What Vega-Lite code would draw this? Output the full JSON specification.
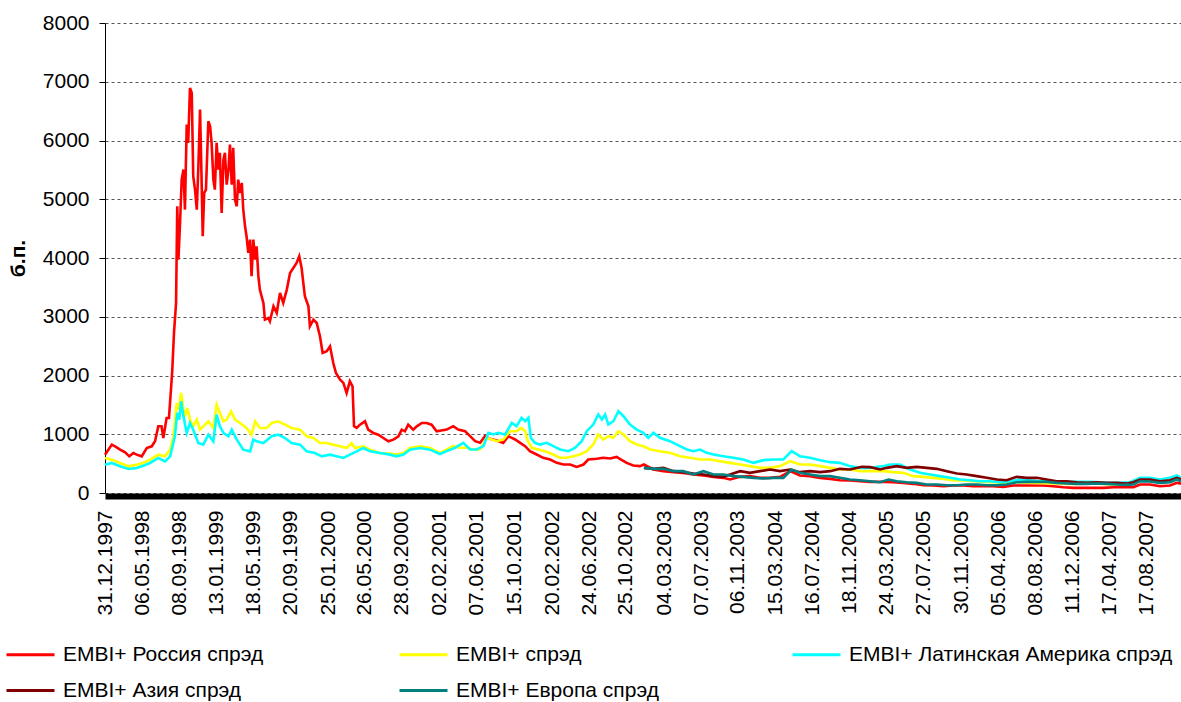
{
  "$schema": "https://vega.github.io/schema/vega-lite/v6.json",
  "width": 1076,
  "height": 470,
  "autosize": {"type": "none"},
  "padding": {"left": 105, "top": 23, "right": 0, "bottom": 209},
  "background": "white",
  "config": {"view": {"stroke": null}, "font": "Liberation Sans"},
  "encoding": {
    "x": {
      "field": "d", "type": "temporal",
      "scale": {"type": "utc", "domain": [{"year": 1997, "month": 12, "date": 31, "utc": true}, {"year": 2007, "month": 12, "date": 13, "utc": true}]},
      "axis": {
        "title": null,
        "values": [
          {"year": 1997, "month": 12, "date": 31, "utc": true},
          {"year": 1998, "month": 5, "date": 6, "utc": true},
          {"year": 1998, "month": 9, "date": 8, "utc": true},
          {"year": 1999, "month": 1, "date": 13, "utc": true},
          {"year": 1999, "month": 5, "date": 18, "utc": true},
          {"year": 1999, "month": 9, "date": 20, "utc": true},
          {"year": 2000, "month": 1, "date": 25, "utc": true},
          {"year": 2000, "month": 5, "date": 26, "utc": true},
          {"year": 2000, "month": 9, "date": 28, "utc": true},
          {"year": 2001, "month": 2, "date": 2, "utc": true},
          {"year": 2001, "month": 6, "date": 7, "utc": true},
          {"year": 2001, "month": 10, "date": 15, "utc": true},
          {"year": 2002, "month": 2, "date": 20, "utc": true},
          {"year": 2002, "month": 6, "date": 24, "utc": true},
          {"year": 2002, "month": 10, "date": 25, "utc": true},
          {"year": 2003, "month": 3, "date": 4, "utc": true},
          {"year": 2003, "month": 7, "date": 7, "utc": true},
          {"year": 2003, "month": 11, "date": 6, "utc": true},
          {"year": 2004, "month": 3, "date": 15, "utc": true},
          {"year": 2004, "month": 7, "date": 16, "utc": true},
          {"year": 2004, "month": 11, "date": 18, "utc": true},
          {"year": 2005, "month": 3, "date": 24, "utc": true},
          {"year": 2005, "month": 7, "date": 27, "utc": true},
          {"year": 2005, "month": 11, "date": 30, "utc": true},
          {"year": 2006, "month": 4, "date": 5, "utc": true},
          {"year": 2006, "month": 8, "date": 8, "utc": true},
          {"year": 2006, "month": 12, "date": 11, "utc": true},
          {"year": 2007, "month": 4, "date": 17, "utc": true},
          {"year": 2007, "month": 8, "date": 17, "utc": true}
        ],
        "labelExpr": "utcFormat(datum.value, '%d.%m.%Y')",
        "labelAngle": -90, "labelFontSize": 21, "labelFont": "Liberation Sans", "labelColor": "#000",
        "labelPadding": 14, "ticks": false, "domainColor": "#000", "domainWidth": 6, "offset": 3,
        "grid": false, "labelOverlap": false, "labelFlush": false, "labelBound": false
      }
    },
    "y": {
      "field": "v", "type": "quantitative",
      "scale": {"domain": [0, 8000], "nice": false},
      "axis": {
        "title": "б.п.", "titleFontSize": 21, "titleFont": "Liberation Sans", "titleFontWeight": "bold", "titleColor": "#000", "titlePadding": 14,
        "values": [0, 1000, 2000, 3000, 4000, 5000, 6000, 7000, 8000], "format": "d",
        "labelFontSize": 21, "labelFont": "Liberation Sans", "labelColor": "#000", "labelPadding": 10,
        "tickSize": 6, "tickColor": "#000", "domainColor": "#000", "domainWidth": 1,
        "grid": true, "gridDash": [3, 3], "gridColor": "#555", "gridWidth": 1
      }
    }
  },
  "layer": [
    {
      "data": {"values": [
        {"d":"1997-12-31","v":650},{"d":"1998-01-23","v":823},{"d":"1998-02-03","v":795},{"d":"1998-02-20","v":738},{"d":"1998-03-09","v":692},{"d":"1998-03-23","v":624},{"d":"1998-04-06","v":681},{"d":"1998-04-17","v":653},{"d":"1998-05-04","v":624},{"d":"1998-05-21","v":766},{"d":"1998-06-07","v":795},{"d":"1998-06-18","v":880},{"d":"1998-06-29","v":1135},{"d":"1998-07-10","v":1135},{"d":"1998-07-16","v":936},{"d":"1998-07-27","v":1277},{"d":"1998-08-04","v":1277},{"d":"1998-08-10","v":1703},{"d":"1998-08-15","v":2071},{"d":"1998-08-21","v":2724},{"d":"1998-08-28","v":3235},{"d":"1998-09-01","v":4880},{"d":"1998-09-05","v":3972},{"d":"1998-09-10","v":4540},{"d":"1998-09-16","v":5335},{"d":"1998-09-22","v":5505},{"d":"1998-09-27","v":4824},{"d":"1998-10-03","v":6271},{"d":"1998-10-08","v":5959},{"d":"1998-10-14","v":6895},{"d":"1998-10-20","v":6810},{"d":"1998-10-25","v":5391},{"d":"1998-10-31","v":5164},{"d":"1998-11-06","v":4824},{"d":"1998-11-11","v":5505},{"d":"1998-11-17","v":6526},{"d":"1998-11-22","v":5391},{"d":"1998-11-26","v":4370},{"d":"1998-12-01","v":5108},{"d":"1998-12-07","v":5164},{"d":"1998-12-15","v":6328},{"d":"1998-12-21","v":6243},{"d":"1998-12-26","v":5959},{"d":"1999-01-01","v":5335},{"d":"1999-01-06","v":5164},{"d":"1999-01-12","v":5959},{"d":"1999-01-18","v":5505},{"d":"1999-01-23","v":5789},{"d":"1999-01-29","v":4767},{"d":"1999-02-04","v":5675},{"d":"1999-02-09","v":5789},{"d":"1999-02-15","v":5249},{"d":"1999-02-21","v":5505},{"d":"1999-02-26","v":5930},{"d":"1999-03-04","v":5249},{"d":"1999-03-09","v":5874},{"d":"1999-03-15","v":4994},{"d":"1999-03-21","v":4880},{"d":"1999-03-26","v":5335},{"d":"1999-04-01","v":5108},{"d":"1999-04-07","v":5278},{"d":"1999-04-12","v":4824},{"d":"1999-04-18","v":4540},{"d":"1999-04-23","v":4370},{"d":"1999-04-29","v":4086},{"d":"1999-05-05","v":4313},{"d":"1999-05-10","v":3689},{"d":"1999-05-16","v":4313},{"d":"1999-05-22","v":3972},{"d":"1999-05-27","v":4199},{"d":"1999-06-02","v":3689},{"d":"1999-06-07","v":3462},{"d":"1999-06-13","v":3348},{"d":"1999-06-19","v":3235},{"d":"1999-06-24","v":2951},{"d":"1999-07-06","v":2979},{"d":"1999-07-11","v":2923},{"d":"1999-07-23","v":3178},{"d":"1999-08-03","v":3065},{"d":"1999-08-14","v":3405},{"d":"1999-08-25","v":3235},{"d":"1999-09-06","v":3462},{"d":"1999-09-17","v":3746},{"d":"1999-09-28","v":3831},{"d":"1999-10-09","v":3916},{"d":"1999-10-18","v":4029},{"d":"1999-10-26","v":3831},{"d":"1999-11-06","v":3348},{"d":"1999-11-18","v":3178},{"d":"1999-11-23","v":2838},{"d":"1999-12-05","v":2951},{"d":"1999-12-16","v":2894},{"d":"1999-12-27","v":2667},{"d":"2000-01-05","v":2384},{"d":"2000-01-19","v":2412},{"d":"2000-01-30","v":2497},{"d":"2000-02-10","v":2213},{"d":"2000-02-19","v":2043},{"d":"2000-03-04","v":1930},{"d":"2000-03-15","v":1873},{"d":"2000-03-26","v":1703},{"d":"2000-04-06","v":1901},{"d":"2000-04-15","v":1816},{"d":"2000-04-20","v":1135},{"d":"2000-04-29","v":1107},{"d":"2000-05-10","v":1163},{"d":"2000-05-27","v":1220},{"d":"2000-06-07","v":1078},{"d":"2000-06-24","v":1022},{"d":"2000-07-11","v":993},{"d":"2000-07-28","v":936},{"d":"2000-08-14","v":880},{"d":"2000-08-31","v":908},{"d":"2000-09-17","v":965},{"d":"2000-09-28","v":1078},{"d":"2000-10-09","v":1050},{"d":"2000-10-20","v":1163},{"d":"2000-11-06","v":1078},{"d":"2000-11-18","v":1135},{"d":"2000-12-05","v":1192},{"d":"2000-12-21","v":1192},{"d":"2001-01-07","v":1163},{"d":"2001-01-24","v":1050},
        {"d":"2001-02-27","v":1080},{"d":"2001-03-21","v":1137},{"d":"2001-04-07","v":1080},{"d":"2001-04-30","v":1052},{"d":"2001-05-17","v":967},{"d":"2001-06-03","v":882},{"d":"2001-06-20","v":854},{"d":"2001-07-06","v":967},{"d":"2001-07-23","v":922},{"d":"2001-08-15","v":894},{"d":"2001-09-06","v":854},{"d":"2001-09-23","v":967},{"d":"2001-10-05","v":939},{"d":"2001-10-16","v":911},{"d":"2001-11-02","v":854},{"d":"2001-11-19","v":797},{"d":"2001-12-05","v":712},{"d":"2001-12-28","v":655},{"d":"2002-01-19","v":599},{"d":"2002-02-11","v":570},{"d":"2002-03-06","v":513},{"d":"2002-03-28","v":485},{"d":"2002-04-20","v":485},{"d":"2002-05-12","v":445},{"d":"2002-06-04","v":485},{"d":"2002-06-20","v":570},{"d":"2002-07-19","v":582},{"d":"2002-08-10","v":599},{"d":"2002-09-02","v":587},{"d":"2002-09-24","v":615},{"d":"2002-10-09","v":570},{"d":"2002-10-28","v":513},{"d":"2002-11-19","v":468},{"d":"2002-12-12","v":457},{"d":"2002-12-25","v":485},{"d":"2003-01-26","v":400},{"d":"2003-03-01","v":372},{"d":"2003-04-04","v":355},{"d":"2003-05-07","v":343},{"d":"2003-06-10","v":315},{"d":"2003-07-14","v":298},{"d":"2003-08-17","v":275},{"d":"2003-09-19","v":258},{"d":"2003-10-12","v":230},{"d":"2003-11-15","v":275},{"d":"2003-12-18","v":287},{"d":"2004-01-21","v":258},{"d":"2004-02-24","v":258},{"d":"2004-03-29","v":275},{"d":"2004-05-02","v":372},{"d":"2004-06-04","v":298},
        {"d":"2004-07-08","v":287},{"d":"2004-08-11","v":258},{"d":"2004-09-14","v":241},{"d":"2004-10-17","v":218},{"d":"2004-11-20","v":213},{"d":"2004-12-24","v":201},{"d":"2005-01-27","v":190},{"d":"2005-03-13","v":190},{"d":"2005-04-16","v":184},{"d":"2005-05-19","v":173},{"d":"2005-06-22","v":156},{"d":"2005-07-26","v":133},{"d":"2005-08-29","v":128},{"d":"2005-10-01","v":116},{"d":"2005-11-04","v":128},{"d":"2005-12-08","v":128},{"d":"2006-01-11","v":116},{"d":"2006-02-14","v":116},{"d":"2006-03-19","v":116},{"d":"2006-04-22","v":105},{"d":"2006-05-26","v":128},{"d":"2006-06-29","v":128},{"d":"2006-08-01","v":128},{"d":"2006-09-04","v":128},{"d":"2006-10-08","v":116},{"d":"2006-11-11","v":99},{"d":"2006-12-15","v":88},{"d":"2007-01-17","v":88},{"d":"2007-02-20","v":88},{"d":"2007-03-26","v":88},{"d":"2007-04-29","v":99},{"d":"2007-06-01","v":99},{"d":"2007-07-05","v":99},{"d":"2007-07-28","v":145},{"d":"2007-08-30","v":145},{"d":"2007-10-03","v":116},{"d":"2007-11-06","v":128},{"d":"2007-11-29","v":173},{"d":"2007-12-13","v":160}
      ]},
      "mark": {"type": "line", "strokeWidth": 2.6},
      "encoding": {
        "color": {
          "datum": "EMBI+ Россия спрэд",
          "scale": {
            "domain": ["EMBI+ Россия спрэд", "EMBI+ спрэд", "EMBI+ Латинская Америка спрэд", "EMBI+ Азия спрэд", "EMBI+ Европа спрэд"],
            "range": ["#FF0000", "#FFFF00", "#00FFFF", "#800000", "#008080"]
          },
          "legend": {
            "title": null, "orient": "none", "legendX": -100, "legendY": 606, "padding": 0,
            "columns": 3, "direction": "horizontal", "gridAlign": "all", "columnPadding": 6, "rowPadding": -14,
            "symbolType": "stroke", "symbolSize": 2304, "symbolStrokeWidth": 3,
            "labelFontSize": 21, "labelFont": "Liberation Sans", "labelColor": "#000", "labelOffset": 7, "labelLimit": 0
          }
        }
      }
    },
    {
      "data": {"values": [
        {"d":"1997-12-31","v":596},{"d":"1998-01-23","v":568},{"d":"1998-02-20","v":511},{"d":"1998-03-20","v":454},{"d":"1998-04-17","v":482},{"d":"1998-05-09","v":511},{"d":"1998-06-01","v":568},{"d":"1998-06-29","v":653},{"d":"1998-07-22","v":624},{"d":"1998-08-08","v":738},{"d":"1998-08-19","v":965},{"d":"1998-08-30","v":1532},{"d":"1998-09-05","v":1419},{"d":"1998-09-14","v":1703},{"d":"1998-09-22","v":1419},{"d":"1998-09-27","v":1305},{"d":"1998-10-05","v":1447},{"d":"1998-10-14","v":1249},{"d":"1998-10-25","v":1135},{"d":"1998-11-06","v":1249},{"d":"1998-11-17","v":1078},{"d":"1998-12-04","v":1163},{"d":"1998-12-15","v":1220},{"d":"1999-01-01","v":1107},{"d":"1999-01-12","v":1504},{"d":"1999-01-23","v":1362},{"d":"1999-02-04","v":1220},{"d":"1999-02-15","v":1249},{"d":"1999-03-02","v":1390},{"d":"1999-03-15","v":1249},{"d":"1999-04-01","v":1192},{"d":"1999-04-23","v":1107},{"d":"1999-05-10","v":993},{"d":"1999-05-22","v":1220},{"d":"1999-06-07","v":1107},{"d":"1999-06-30","v":1107},{"d":"1999-07-17","v":1192},{"d":"1999-08-08","v":1220},{"d":"1999-08-31","v":1163},{"d":"1999-09-22","v":1107},{"d":"1999-10-21","v":1078},{"d":"1999-11-12","v":965},{"d":"1999-12-05","v":936},{"d":"1999-12-27","v":851},{"d":"2000-01-19","v":851},{"d":"2000-02-10","v":823},{"d":"2000-03-04","v":795},{"d":"2000-03-26","v":766},{"d":"2000-04-12","v":851},{"d":"2000-04-23","v":766},{"d":"2000-05-21","v":795},{"d":"2000-06-13","v":738},{"d":"2000-07-17","v":681},{"d":"2000-08-20","v":670},{"d":"2000-09-11","v":653},{"d":"2000-10-04","v":681},{"d":"2000-10-26","v":766},{"d":"2000-11-29","v":795},{"d":"2001-01-02","v":766},{"d":"2001-02-04","v":681},
        {"d":"2001-02-27","v":740},{"d":"2001-03-21","v":797},{"d":"2001-04-13","v":769},{"d":"2001-05-06","v":769},{"d":"2001-05-28","v":740},{"d":"2001-06-20","v":740},{"d":"2001-07-12","v":939},{"d":"2001-07-29","v":911},{"d":"2001-08-15","v":882},{"d":"2001-09-06","v":911},{"d":"2001-09-29","v":1052},{"d":"2001-10-21","v":1052},{"d":"2001-11-07","v":1109},{"d":"2001-11-19","v":1052},{"d":"2001-11-26","v":911},{"d":"2001-12-11","v":769},{"d":"2002-01-03","v":740},{"d":"2002-01-25","v":712},{"d":"2002-02-22","v":655},{"d":"2002-03-17","v":599},{"d":"2002-04-08","v":599},{"d":"2002-05-01","v":627},{"d":"2002-05-23","v":655},{"d":"2002-06-15","v":712},{"d":"2002-07-07","v":825},{"d":"2002-07-24","v":996},{"d":"2002-08-10","v":911},{"d":"2002-08-27","v":967},{"d":"2002-09-13","v":939},{"d":"2002-09-30","v":1052},{"d":"2002-10-17","v":996},{"d":"2002-11-08","v":882},{"d":"2002-12-01","v":825},{"d":"2002-12-23","v":797},{"d":"2003-01-15","v":740},{"d":"2003-02-17","v":712},{"d":"2003-03-23","v":684},{"d":"2003-04-26","v":627},{"d":"2003-05-30","v":599},{"d":"2003-07-03","v":570},{"d":"2003-08-05","v":570},{"d":"2003-09-08","v":542},{"d":"2003-10-12","v":513},{"d":"2003-11-15","v":485},{"d":"2003-12-18","v":457},{"d":"2004-01-21","v":428},{"d":"2004-02-24","v":428},{"d":"2004-03-29","v":457},{"d":"2004-05-02","v":542},{"d":"2004-06-04","v":485},
        {"d":"2004-07-08","v":485},{"d":"2004-08-11","v":457},{"d":"2004-09-14","v":428},{"d":"2004-10-17","v":400},{"d":"2004-11-20","v":400},{"d":"2004-12-24","v":372},{"d":"2005-01-27","v":372},{"d":"2005-03-13","v":372},{"d":"2005-04-16","v":355},{"d":"2005-05-19","v":343},{"d":"2005-06-22","v":287},{"d":"2005-07-26","v":275},{"d":"2005-08-29","v":258},{"d":"2005-10-01","v":241},{"d":"2005-11-04","v":218},{"d":"2005-12-08","v":213},{"d":"2006-01-11","v":201},{"d":"2006-02-14","v":190},{"d":"2006-03-19","v":184},{"d":"2006-04-22","v":173},{"d":"2006-05-26","v":184},{"d":"2006-08-01","v":173},{"d":"2006-10-08","v":162},{"d":"2006-12-15","v":156},{"d":"2007-02-20","v":162},{"d":"2007-04-29","v":145},{"d":"2007-06-24","v":156},{"d":"2007-07-28","v":218},{"d":"2007-10-03","v":201},{"d":"2007-11-29","v":258},{"d":"2007-12-13","v":230}
      ]},
      "mark": {"type": "line", "strokeWidth": 2.6},
      "encoding": {"color": {"datum": "EMBI+ спрэд"}}
    },
    {
      "data": {"values": [
        {"d":"1997-12-31","v":482},{"d":"1998-01-23","v":511},{"d":"1998-02-20","v":454},{"d":"1998-03-20","v":409},{"d":"1998-04-17","v":426},{"d":"1998-05-09","v":465},{"d":"1998-06-01","v":511},{"d":"1998-06-29","v":596},{"d":"1998-07-22","v":539},{"d":"1998-08-08","v":624},{"d":"1998-08-24","v":965},{"d":"1998-09-01","v":1362},{"d":"1998-09-08","v":1249},{"d":"1998-09-14","v":1561},{"d":"1998-09-22","v":1305},{"d":"1998-10-03","v":1022},{"d":"1998-10-14","v":1192},{"d":"1998-10-25","v":1078},{"d":"1998-11-11","v":851},{"d":"1998-11-28","v":823},{"d":"1998-12-15","v":993},{"d":"1999-01-01","v":880},{"d":"1999-01-12","v":1334},{"d":"1999-01-23","v":1135},{"d":"1999-02-04","v":1022},{"d":"1999-02-21","v":965},{"d":"1999-03-04","v":1078},{"d":"1999-03-21","v":908},{"d":"1999-04-12","v":738},{"d":"1999-05-05","v":709},{"d":"1999-05-16","v":908},{"d":"1999-05-27","v":880},{"d":"1999-06-19","v":851},{"d":"1999-07-17","v":965},{"d":"1999-08-08","v":993},{"d":"1999-08-31","v":936},{"d":"1999-09-22","v":851},{"d":"1999-10-21","v":823},{"d":"1999-11-12","v":709},{"d":"1999-12-10","v":681},{"d":"2000-01-02","v":624},{"d":"2000-01-30","v":653},{"d":"2000-02-21","v":624},{"d":"2000-03-15","v":596},{"d":"2000-04-06","v":653},{"d":"2000-04-29","v":709},{"d":"2000-05-21","v":766},{"d":"2000-06-13","v":709},{"d":"2000-07-17","v":681},{"d":"2000-08-20","v":653},{"d":"2000-09-11","v":624},{"d":"2000-10-04","v":653},{"d":"2000-10-26","v":738},{"d":"2000-11-29","v":766},{"d":"2001-01-02","v":738},{"d":"2001-02-04","v":664},
        {"d":"2001-02-27","v":712},{"d":"2001-03-27","v":769},{"d":"2001-04-24","v":854},{"d":"2001-05-17","v":740},{"d":"2001-06-08","v":740},{"d":"2001-07-01","v":797},{"d":"2001-07-18","v":1024},{"d":"2001-08-04","v":996},{"d":"2001-08-20","v":1024},{"d":"2001-09-12","v":996},{"d":"2001-10-05","v":1194},{"d":"2001-10-21","v":1137},{"d":"2001-11-07","v":1279},{"d":"2001-11-19","v":1222},{"d":"2001-11-30","v":1279},{"d":"2001-12-08","v":939},{"d":"2001-12-22","v":854},{"d":"2002-01-08","v":825},{"d":"2002-01-31","v":854},{"d":"2002-02-22","v":797},{"d":"2002-03-17","v":740},{"d":"2002-04-14","v":712},{"d":"2002-05-06","v":769},{"d":"2002-05-29","v":882},{"d":"2002-06-15","v":1052},{"d":"2002-07-07","v":1165},{"d":"2002-07-24","v":1336},{"d":"2002-08-05","v":1251},{"d":"2002-08-16","v":1336},{"d":"2002-08-27","v":1165},{"d":"2002-09-13","v":1222},{"d":"2002-09-30","v":1393},{"d":"2002-10-17","v":1307},{"d":"2002-11-08","v":1165},{"d":"2002-12-01","v":1080},{"d":"2002-12-23","v":1024},{"d":"2003-01-09","v":939},{"d":"2003-01-26","v":1024},{"d":"2003-02-17","v":939},{"d":"2003-03-23","v":882},{"d":"2003-04-26","v":797},{"d":"2003-05-19","v":740},{"d":"2003-06-10","v":712},{"d":"2003-07-03","v":740},{"d":"2003-07-25","v":684},{"d":"2003-08-17","v":655},{"d":"2003-09-19","v":627},{"d":"2003-10-23","v":599},{"d":"2003-11-26","v":570},{"d":"2003-12-30","v":513},{"d":"2004-02-02","v":559},{"d":"2004-03-06","v":570},{"d":"2004-04-09","v":570},{"d":"2004-05-07","v":712},{"d":"2004-06-04","v":627},
        {"d":"2004-07-08","v":599},{"d":"2004-08-11","v":559},{"d":"2004-09-14","v":525},{"d":"2004-10-17","v":513},{"d":"2004-11-20","v":457},{"d":"2004-12-24","v":428},{"d":"2005-01-27","v":428},{"d":"2005-03-13","v":457},{"d":"2005-04-04","v":485},{"d":"2005-05-08","v":485},{"d":"2005-06-11","v":400},{"d":"2005-07-15","v":343},{"d":"2005-08-17","v":315},{"d":"2005-09-20","v":287},{"d":"2005-10-24","v":258},{"d":"2005-11-27","v":230},{"d":"2005-12-31","v":218},{"d":"2006-02-02","v":201},{"d":"2006-03-08","v":201},{"d":"2006-04-11","v":184},{"d":"2006-05-15","v":201},{"d":"2006-06-17","v":230},{"d":"2006-07-21","v":218},{"d":"2006-08-24","v":201},{"d":"2006-09-27","v":201},{"d":"2006-10-30","v":190},{"d":"2006-12-03","v":190},{"d":"2007-01-06","v":190},{"d":"2007-02-09","v":190},{"d":"2007-03-15","v":184},{"d":"2007-04-17","v":173},{"d":"2007-05-21","v":173},{"d":"2007-06-24","v":184},{"d":"2007-07-28","v":258},{"d":"2007-08-30","v":258},{"d":"2007-10-03","v":230},{"d":"2007-11-06","v":258},{"d":"2007-11-29","v":298},{"d":"2007-12-13","v":258}
      ]},
      "mark": {"type": "line", "strokeWidth": 2.6},
      "encoding": {"color": {"datum": "EMBI+ Латинская Америка спрэд"}}
    },
    {
      "data": {"values": [
        {"d":"2002-12-25","v":428},{"d":"2003-01-26","v":411},{"d":"2003-03-01","v":428},{"d":"2003-04-04","v":372},{"d":"2003-05-07","v":355},{"d":"2003-06-10","v":332},{"d":"2003-07-14","v":315},{"d":"2003-08-17","v":287},{"d":"2003-09-19","v":275},{"d":"2003-10-12","v":315},{"d":"2003-11-15","v":372},{"d":"2003-12-18","v":343},{"d":"2004-01-21","v":372},{"d":"2004-02-24","v":400},{"d":"2004-03-29","v":372},{"d":"2004-05-02","v":400},{"d":"2004-06-04","v":355},
        {"d":"2004-07-08","v":372},{"d":"2004-08-11","v":355},{"d":"2004-09-14","v":372},{"d":"2004-10-17","v":411},{"d":"2004-11-20","v":400},{"d":"2004-12-30","v":445},{"d":"2005-01-27","v":440},{"d":"2005-03-02","v":400},{"d":"2005-03-24","v":428},{"d":"2005-04-27","v":457},{"d":"2005-05-31","v":428},{"d":"2005-07-03","v":445},{"d":"2005-08-06","v":428},{"d":"2005-09-09","v":411},{"d":"2005-10-13","v":372},{"d":"2005-11-16","v":332},{"d":"2005-12-19","v":315},{"d":"2006-01-22","v":287},{"d":"2006-02-25","v":258},{"d":"2006-03-31","v":230},{"d":"2006-05-03","v":218},{"d":"2006-06-06","v":275},{"d":"2006-07-10","v":258},{"d":"2006-08-13","v":258},{"d":"2006-09-15","v":230},{"d":"2006-10-19","v":201},{"d":"2006-11-22","v":201},{"d":"2006-12-26","v":184},{"d":"2007-01-29","v":173},{"d":"2007-03-03","v":184},{"d":"2007-04-06","v":173},{"d":"2007-05-10","v":173},{"d":"2007-06-13","v":162},{"d":"2007-07-05","v":184},{"d":"2007-07-28","v":230},{"d":"2007-08-30","v":230},{"d":"2007-10-03","v":201},{"d":"2007-11-06","v":218},{"d":"2007-11-29","v":258},{"d":"2007-12-13","v":230}
      ]},
      "mark": {"type": "line", "strokeWidth": 2.6},
      "encoding": {"color": {"datum": "EMBI+ Азия спрэд"}}
    },
    {
      "data": {"values": [
        {"d":"2002-12-25","v":428},{"d":"2003-01-26","v":411},{"d":"2003-03-01","v":411},{"d":"2003-04-04","v":372},{"d":"2003-05-07","v":372},{"d":"2003-06-10","v":315},{"d":"2003-07-14","v":372},{"d":"2003-08-17","v":315},{"d":"2003-09-19","v":315},{"d":"2003-10-23","v":287},{"d":"2003-11-26","v":275},{"d":"2003-12-30","v":258},{"d":"2004-02-02","v":247},{"d":"2004-03-06","v":258},{"d":"2004-04-09","v":258},{"d":"2004-05-07","v":400},{"d":"2004-06-04","v":343},
        {"d":"2004-07-08","v":315},{"d":"2004-08-11","v":287},{"d":"2004-09-14","v":287},{"d":"2004-10-17","v":258},{"d":"2004-11-20","v":230},{"d":"2004-12-24","v":218},{"d":"2005-01-27","v":201},{"d":"2005-03-02","v":184},{"d":"2005-03-30","v":230},{"d":"2005-04-27","v":201},{"d":"2005-05-31","v":184},{"d":"2005-07-03","v":173},{"d":"2005-08-06","v":145},{"d":"2005-09-09","v":145},{"d":"2005-10-13","v":133},{"d":"2005-11-16","v":133},{"d":"2005-12-19","v":145},{"d":"2006-01-22","v":145},{"d":"2006-02-25","v":133},{"d":"2006-03-31","v":133},{"d":"2006-05-03","v":145},{"d":"2006-06-06","v":184},{"d":"2006-07-10","v":190},{"d":"2006-08-13","v":190},{"d":"2006-09-15","v":190},{"d":"2006-10-19","v":173},{"d":"2006-11-22","v":162},{"d":"2006-12-26","v":156},{"d":"2007-01-29","v":156},{"d":"2007-03-03","v":162},{"d":"2007-04-06","v":156},{"d":"2007-05-10","v":145},{"d":"2007-06-13","v":139},{"d":"2007-07-05","v":145},{"d":"2007-07-28","v":201},{"d":"2007-08-30","v":196},{"d":"2007-10-03","v":173},{"d":"2007-11-06","v":184},{"d":"2007-11-29","v":230},{"d":"2007-12-13","v":201}
      ]},
      "mark": {"type": "line", "strokeWidth": 2.6},
      "encoding": {"color": {"datum": "EMBI+ Европа спрэд"}}
    }
  ]
}
